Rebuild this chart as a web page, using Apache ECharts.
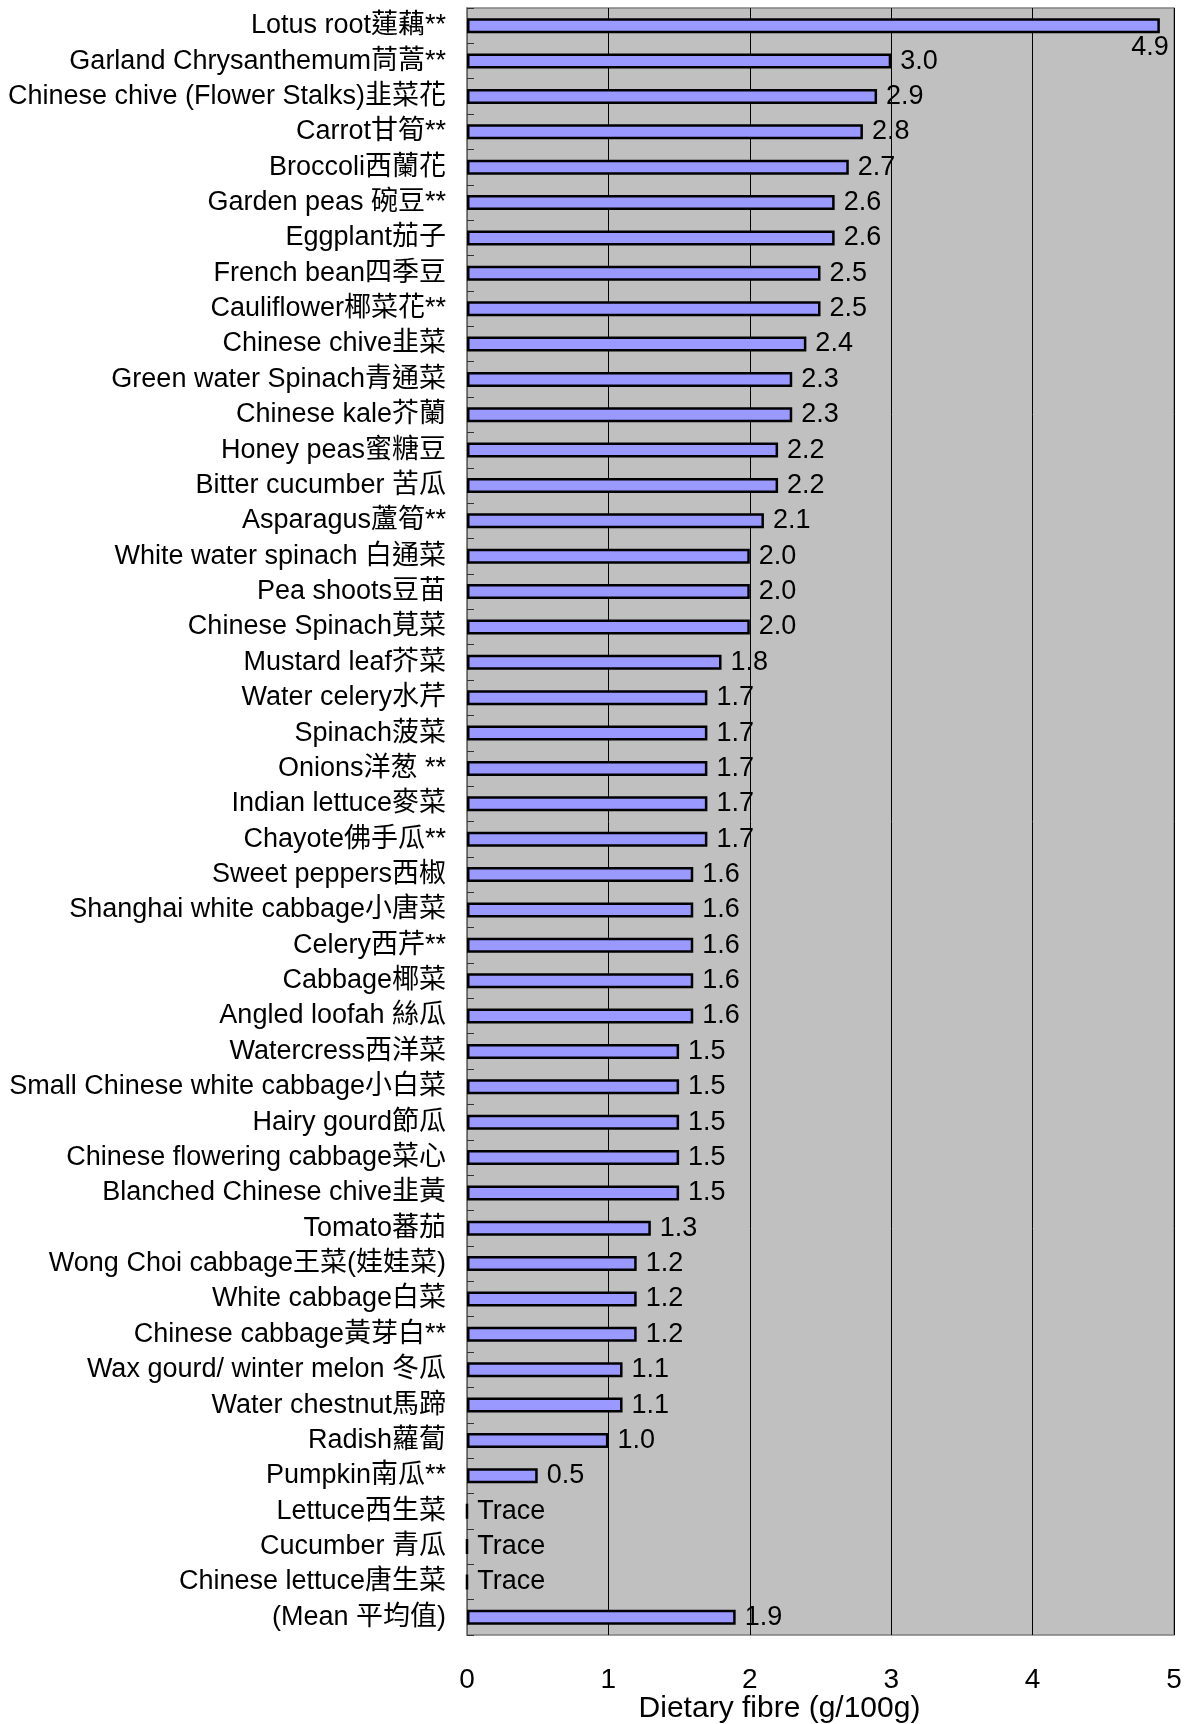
<!DOCTYPE html>
<html>
<head>
<meta charset="utf-8">
<script src="https://cdn.jsdelivr.net/npm/echarts@6/dist/echarts.min.js"></script>
<style>
html,body{margin:0;padding:0;background:#fff;}
#chart{width:1187px;height:1724px;}
</style>
</head>
<body>
<div id="chart"></div>
<script>
const categories = [
  "Lotus root蓮藕**", "Garland Chrysanthemum茼蒿**", "Chinese chive (Flower Stalks)韭菜花", "Carrot甘筍**",
  "Broccoli西蘭花", "Garden peas 碗豆**", "Eggplant茄子", "French bean四季豆", "Cauliflower椰菜花**",
  "Chinese chive韭菜", "Green water Spinach青通菜", "Chinese kale芥蘭", "Honey peas蜜糖豆",
  "Bitter cucumber 苦瓜", "Asparagus蘆筍**", "White water spinach 白通菜", "Pea shoots豆苗",
  "Chinese Spinach莧菜", "Mustard leaf芥菜", "Water celery水芹", "Spinach菠菜", "Onions洋葱 **",
  "Indian lettuce麥菜", "Chayote佛手瓜**", "Sweet peppers西椒", "Shanghai white cabbage小唐菜",
  "Celery西芹**", "Cabbage椰菜", "Angled loofah 絲瓜", "Watercress西洋菜",
  "Small Chinese white cabbage小白菜", "Hairy gourd節瓜", "Chinese flowering cabbage菜心",
  "Blanched Chinese chive韭黃", "Tomato蕃茄", "Wong Choi cabbage王菜(娃娃菜)", "White cabbage白菜",
  "Chinese cabbage黃芽白**", "Wax gourd/ winter melon 冬瓜", "Water chestnut馬蹄", "Radish蘿蔔",
  "Pumpkin南瓜**", "Lettuce西生菜", "Cucumber 青瓜", "Chinese lettuce唐生菜", "(Mean 平均值)"
];
const values = [
  4.9, 3.0, 2.9, 2.8, 2.7, 2.6, 2.6, 2.5, 2.5, 2.4, 2.3, 2.3, 2.2, 2.2, 2.1, 2.0, 2.0, 2.0,
  1.8, 1.7, 1.7, 1.7, 1.7, 1.7, 1.6, 1.6, 1.6, 1.6, 1.6, 1.5, 1.5, 1.5, 1.5, 1.5, 1.3,
  1.2, 1.2, 1.2, 1.1, 1.1, 1.0, 0.5, 0, 0, 0, 1.9
];
const valueLabels = [
  "4.9", "3.0", "2.9", "2.8", "2.7", "2.6", "2.6", "2.5", "2.5", "2.4", "2.3", "2.3", "2.2", "2.2", "2.1", "2.0", "2.0", "2.0",
  "1.8", "1.7", "1.7", "1.7", "1.7", "1.7", "1.6", "1.6", "1.6", "1.6", "1.6", "1.5", "1.5", "1.5", "1.5", "1.5", "1.3",
  "1.2", "1.2", "1.2", "1.1", "1.1", "1.0", "0.5", "Trace", "Trace", "Trace", "1.9"
];
const xTicks = [0, 1, 2, 3, 4, 5];
const xTitle = "Dietary fibre (g/100g)";

const FONT = "'Liberation Sans', Arial, 'Noto Sans CJK TC', sans-serif";
const FS = 27;

const seriesData = values.map((v, i) => {
  if (i === 0) {
    return {
      value: v,
      label: {
        position: ['100%', '100%'],
        align: 'right',
        verticalAlign: 'top',
        offset: [9, 1]
      }
    };
  }
  return v;
});

const chart = echarts.init(document.getElementById('chart'), null, {renderer: 'canvas'});
chart.setOption({
  backgroundColor: '#ffffff',
  animation: false,
  textStyle: {fontFamily: FONT},
  grid: {
    left: 467, right: 13, top: 8, bottom: 89,
    show: true, backgroundColor: '#c0c0c0', borderColor: '#808080', borderWidth: 1.5,
    containLabel: false,
    outerBoundsMode: 'none'
  },
  xAxis: {
    type: 'value',
    min: xTicks[0], max: xTicks[xTicks.length - 1], interval: 1,
    axisLine: {show: false},
    axisTick: {show: false},
    splitLine: {show: true, lineStyle: {color: '#000', width: 1}},
    axisLabel: {
      color: '#000', fontSize: 28, fontFamily: FONT, margin: 31,
      formatter: v => xTicks.includes(v) ? String(v) : ''
    },
    name: xTitle,
    nameLocation: 'middle',
    nameGap: 59,
    nameMoveOverlap: false,
    nameTextStyle: {color: '#000', fontSize: 30, fontFamily: FONT, padding: [0, 82, 0, 0]}
  },
  yAxis: {
    type: 'category',
    inverse: true,
    data: categories,
    axisLine: {show: true, lineStyle: {color: '#808080', width: 1.5}},
    axisTick: {show: true, inside: true, length: 7, lineStyle: {color: '#333', width: 1}},
    splitLine: {show: false},
    axisLabel: {color: '#000', fontSize: FS, fontFamily: FONT, margin: 21, interval: 0}
  },
  series: [{
    type: 'bar',
    data: seriesData,
    barWidth: 15,
    itemStyle: {color: '#9999ff', borderColor: '#000', borderWidth: 2.5},
    label: {
      show: true,
      position: 'right',
      distance: 9,
      color: '#000',
      fontSize: FS,
      fontFamily: FONT,
      formatter: p => valueLabels[p.dataIndex]
    }
  }]
});
</script>
</body>
</html>
